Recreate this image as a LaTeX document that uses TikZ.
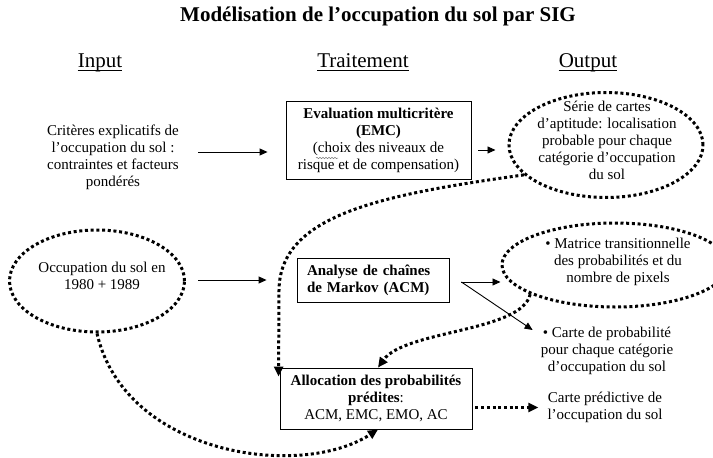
\documentclass[tikz,border=0pt]{standalone}
\usepackage{fontspec}
\setmainfont{Liberation Serif}
\usetikzlibrary{arrows.meta,shapes.geometric,calc,decorations.pathmorphing}
\begin{document}
\begin{tikzpicture}[x=1pt,y=-1pt,
  txt/.style={font=\fontsize{15}{17}\selectfont, align=center, inner sep=0pt},
  btxt/.style={align=center, inner sep=0pt, font=\bfseries\fontsize{15}{17}\selectfont},
  hdr/.style={font=\fontsize{21}{24}\selectfont, inner sep=0pt, anchor=base},
  boxed/.style={draw, line width=0.9pt},
  dotln/.style={line width=3pt, dash pattern=on 3pt off 2.7pt},
  dotell/.style={ellipse, draw, dotln, inner sep=0pt},
  arr/.style={line width=0.9pt, -{Triangle[length=8pt,width=7pt]}},
  darr/.style={dotln, -{Triangle[length=10pt,width=9pt]}},
  squiggle/.style={decorate, decoration={snake, amplitude=0.7pt, segment length=3pt}, gray, line width=0.5pt}
]
\fill[white] (0,0) rectangle (713,458);
\useasboundingbox (0,0) rectangle (713,458);

% title and headers
\node[font=\bfseries\fontsize{21}{24}\selectfont, anchor=base, inner sep=0pt] (title) at (378,21) {Modélisation de l’occupation du sol par SIG};
\node[hdr] (hin) at (100,67) {Input};
\node[hdr] (htr) at (363,67) {Traitement};
\node[hdr] (hout) at (588,67) {Output};
\foreach \h in {hin,htr,hout}
  \draw[line width=1pt] ($(\h.base west)+(0,3)$) -- ($(\h.base east)+(0,3)$);

% inputs
\node[txt] (crit) at (113,157.5) {Critères explicatifs de\\l’occupation du sol :\\contraintes et facteurs\\pondérés};
\node[dotell, minimum width=175pt, minimum height=102pt] (ell2) at (97,281) {};
\node[txt] (t2) at (102,276) {Occupation du sol en\\1980 + 1989};

% processing
\node[boxed, txt, minimum width=185pt, minimum height=78pt] (emc) at (378.5,140) {\textbf{Evaluation multicritère}\\\textbf{(EMC)}\\(choix des niveaux de\\risque et de compensation)};
\draw[squiggle] (316,158) -- (338,158);
\node[boxed, btxt, align=left, text width=132pt, inner xsep=10pt, minimum height=44pt] (acm) at (373,280) {Analyse de chaînes\\de Markov (ACM)};
\node[boxed, txt, minimum width=192pt, minimum height=61pt] (alloc) at (376,398.5) {\textbf{Allocation des probabilités}\\\textbf{prédites}:\\ACM, EMC, EMO, AC};

% outputs
\node[dotell, minimum width=194pt, minimum height=105pt] (ell1) at (606,145) {};
\node[txt] (t1) at (607,140) {Série de cartes\\d’aptitude: localisation\\probable pour chaque\\catégorie d’occupation\\du sol};
\node[dotell, minimum width=226pt, minimum height=84pt] (ell3) at (615,265) {};
\node[txt] (t3) at (618,262) {\textbullet{} Matrice transitionnelle\\des probabilités et du\\nombre de pixels};
\node[txt] (cprob) at (607,351) {\textbullet{} Carte de probabilité\\pour chaque catégorie\\d’occupation du sol};
\node[txt] (cpred) at (605,407.5) {Carte prédictive de\\l’occupation du sol};

% solid arrows
\draw[arr] ($(crit.east)+(19,-5.5)$) -- ($(emc.west)+(-18,12)$);
\draw[arr] ($(emc.east)+(7,10)$) -- ($(ell1.west)+(-12,5)$);
\draw[arr] ($(ell2.east)+(12,-1)$) -- ($(acm.west)+(-30,0)$);
\coordinate (fork) at ($(acm.east)+(12,2)$);
\draw[arr] (fork) -- (fork -| ell3.west);
\draw[arr] (fork) -- ($(cprob.north west)+(-8,3)$);

% dotted arrows
\draw[darr] ($(alloc.east |- cpred.west)+(3,0)$) -- ($(cpred.west)+(-9,0)$);
\draw[darr] (ell1.200) .. controls (380,195) and (280,215) .. (279,290) -- ($(alloc.north west)+(-1,9)$);
\draw[darr] (ell3.199) .. controls (522,332) and (405,330) .. ($(alloc.north)+(2,0)$);
\draw[darr] (ell2.south) .. controls (125,455) and (300,480) .. ($(alloc.south)+(2,0)$);
\end{tikzpicture}
\end{document}
